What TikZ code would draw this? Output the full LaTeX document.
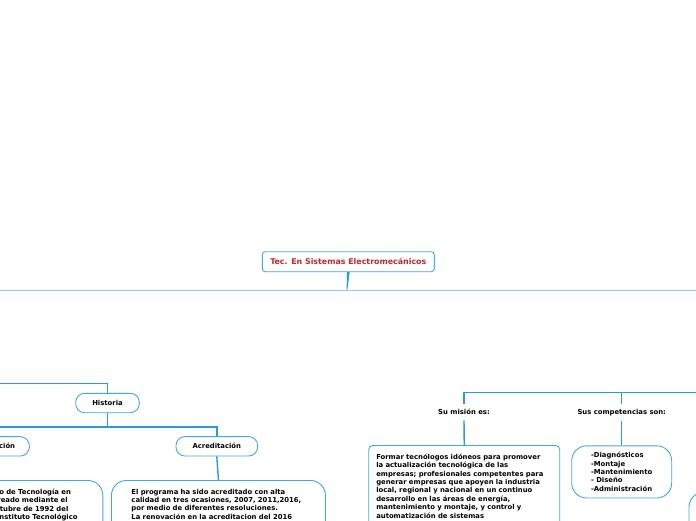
\documentclass[tikz,border=0pt]{standalone}
\usepackage{fontspec}
\setmainfont{DejaVu Sans}
\usetikzlibrary{positioning}
\definecolor{branchblue}{HTML}{2A9AE0}
\definecolor{boxblue}{HTML}{47A7E6}
\definecolor{hubblue}{HTML}{8CD0F2}
\definecolor{titlered}{HTML}{C1272D}

\begin{document}
\begin{tikzpicture}[
    x=1pt, y=-1pt,
    every node/.style={font=\fontsize{6.85}{8.4}\selectfont\bfseries},
    title/.style={rectangle, rounded corners=3pt, draw=boxblue, line width=0.9pt, fill=white, minimum width=172pt, minimum height=20pt, text=titlered, font=\fontsize{7.9}{9}\selectfont\bfseries},
    topic/.style={rectangle, rounded corners=9pt, draw=boxblue, line width=0.9pt, fill=white, minimum height=19.4pt},
    plainlabel/.style={inner sep=5pt},
    textbox/.style={rectangle, draw=boxblue, line width=0.9pt, fill=white, align=left, text width=174pt, inner xsep=20pt, inner ysep=8.4pt, rounded corners=15pt},
    branch/.style={draw=branchblue, line width=1.4pt},
    hub/.style={draw=hubblue, line width=1pt}
]
    \useasboundingbox (0,0) rectangle (696,520);
    \clip (0,0) rectangle (696,520);

    % central topic
    \node[title] (tecsis) at (348.3,261.7) {Tec. En Sistemas Electromec\'anicos};
    \coordinate (hub) at (347,290);
    \coordinate (hubwest) at (-20,290);
    \coordinate (hubeast) at (716,290);
    \draw[hub] (hubwest) -- (hubeast);
    \fill[branchblue] ([xshift=-1.3pt]tecsis.south) -- ([xshift=1.3pt]tecsis.south) -- ([xshift=0.4pt]hub) -- ([xshift=-0.4pt]hub) -- cycle;

    % left branch: Historia
    \coordinate (leftin) at (-60,383.3);
    \node[topic, minimum width=63.6pt] (historia) at (107.5,403) {Historia};
    \node[topic, minimum width=68pt] (fundacion) at (-4.7,446.3) {Fundaci\'on};
    \node[topic, minimum width=81.7pt] (acreditacion) at (216.8,446.3) {Acreditaci\'on};
    \node[textbox, anchor=north east, text width=171pt, inner xsep=19pt, text depth=60pt] (fundtext) at (103.3,480)
        {El Programa Acad\'emico de Tecnolog\'ia en\\Electromec\'anica fue creado mediante el\\Acuerdo del mes de octubre de 1992 del\\Consejo Directivo del Instituto Tecnol\'ogico};
    \node[textbox, anchor=north west, text depth=60pt] (acredtext) at (111,480)
        {El programa ha sido acreditado con alta\\calidad en tres ocasiones, 2007, 2011,2016,\\por medio de diferentes resoluciones.\\La renovaci\'on en la acreditacion del 2016};

    \draw[branch] (leftin) -| (historia.north);
    \draw[branch] (historia.south) -- ++(0,13.7) -| (acreditacion.north);
    \draw[branch] (historia.south) -- ++(0,13.7) -| (fundacion.north);
    \draw[branch] (fundacion.south) -- (fundtext.north);
    \draw[branch] (acreditacion.south) -- (acredtext.north);

    % right branch: mision y competencias
    \coordinate (rightin) at (760,392.3);
    \node[plainlabel] (mision) at (464,412.3) {Su misi\'on es:};
    \node[plainlabel] (competencias) at (621.7,412.3) {Sus competencias son:};
    \node[textbox, anchor=north west, text width=176pt, inner xsep=7.5pt, rounded corners=4pt, text depth=60pt] (misiontext) at (368.3,445)
        {Formar tecn\'ologos id\'oneos para promover\\la actualizaci\'on tecnol\'ogica de las\\empresas; profesionales competentes para\\generar empresas que apoyen la industria\\local, regional y nacional en un continuo\\desarrollo en las \'areas de energ\'ia,\\mantenimiento y montaje, y control y\\automatizaci\'on de sistemas};
    \node[textbox, text width=, minimum width=100pt, inner xsep=18.5pt, inner ysep=6.5pt] (comptext) at (621.7,471.9)
        {-Diagn\'osticos\\-Montaje\\-Mantenimiento\\- Dise\~no\\-Administraci\'on};
    \node[textbox, anchor=north west, minimum width=80pt, minimum height=60pt, text width=] (nextbox) at (688.5,491.7) {};

    \draw[branch] (rightin) -| (mision.north);
    \draw[branch] (competencias.north) -- (competencias.north |- rightin);
    \draw[branch] (mision.south) -- (misiontext.north);
    \draw[branch] (competencias.south) -- (comptext.north);
\end{tikzpicture}
\end{document}
